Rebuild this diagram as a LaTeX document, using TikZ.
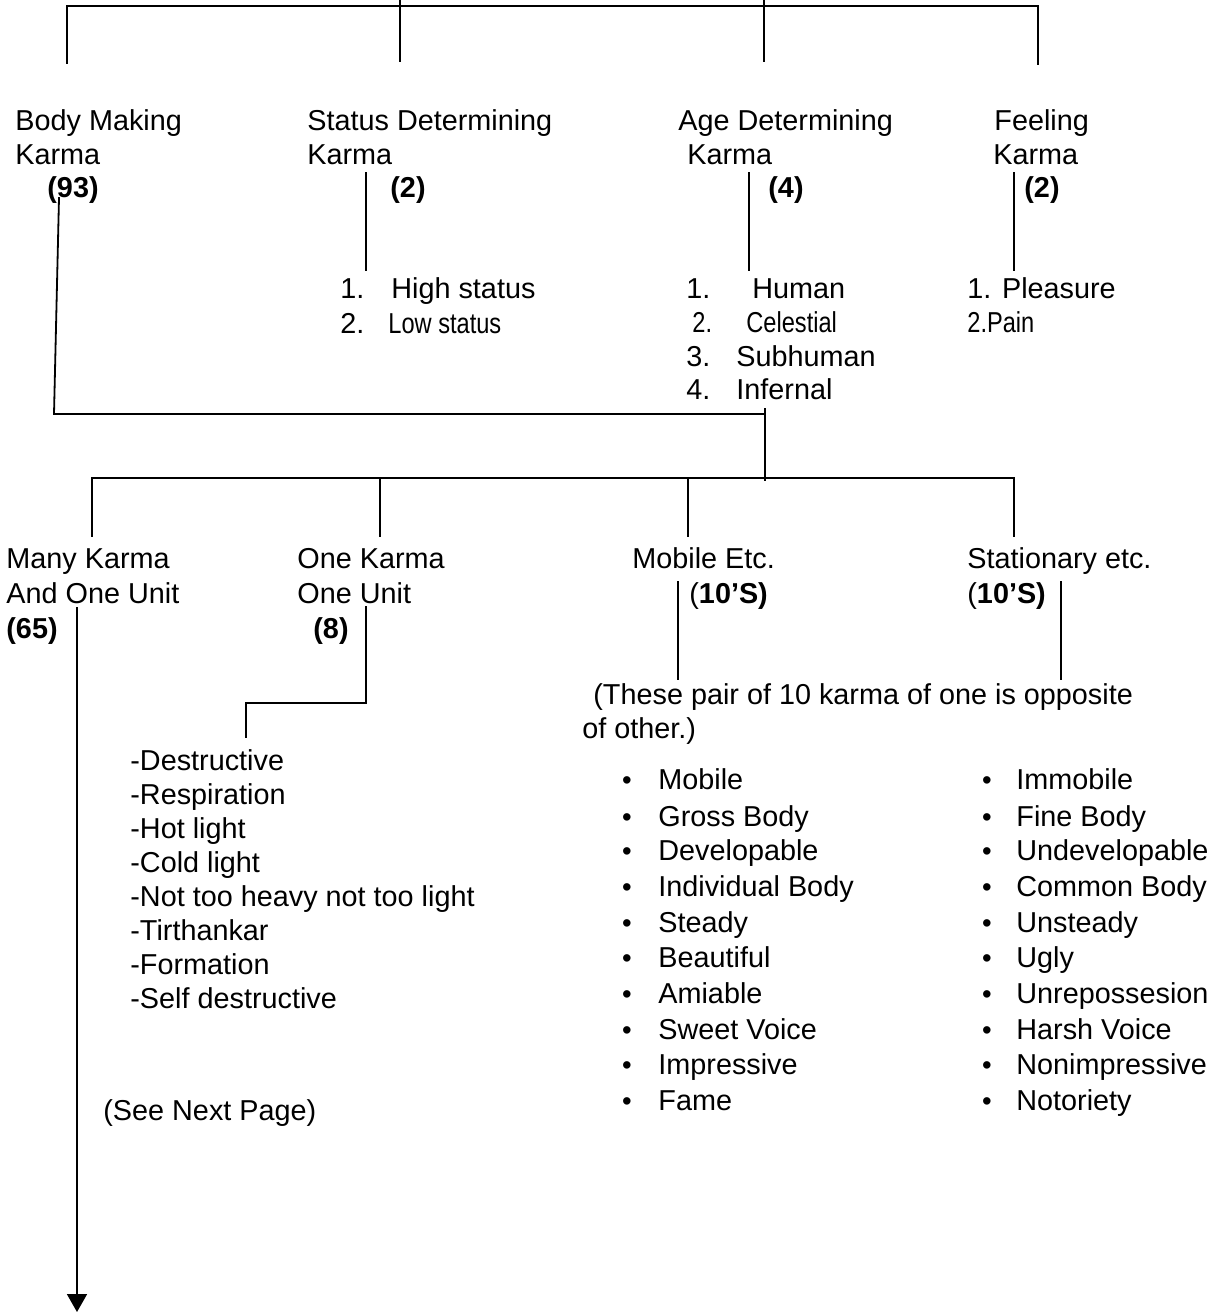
\documentclass[tikz,border=0pt]{standalone}
\usepackage{fontspec}
\usepackage{graphicx}
\setmainfont{Liberation Sans}
\usetikzlibrary{arrows.meta}
\newcommand\condensed[1]{\scalebox{0.82}[1]{#1}}
\begin{document}
\begin{tikzpicture}[x=0.5pt,y=-0.5pt,
  lbl/.style={anchor=base west,inner sep=0pt,font=\fontsize{14.4}{17}\selectfont},
  bld/.style={lbl,font=\fontsize{14.4}{17}\selectfont\bfseries},
  wire/.style={line width=0.9pt,line cap=rect},
  dot/.style={anchor=base,inner sep=0pt,font=\fontsize{13.75}{16}\selectfont}]
\fill[white] (0,0) rectangle (1224,1313);
\useasboundingbox (0,0) rectangle (1224,1313);

% ---------- first level: four kinds of karma ----------
\node[lbl] (bm1) at (15,130) {Body Making};
\node[lbl] (bm2) at (15,164) {Karma};
\node[bld] (bm3) at (47,197) {(93)};

\node[lbl] (sd1) at (307,130) {Status Determining};
\node[lbl] (sd2) at (307,164) {Karma};
\node[bld] (sd3) at (390,197) {(2)};

\node[lbl] (ad1) at (678,130) {Age Determining};
\node[lbl] (ad2) at (687,164) {Karma};
\node[bld] (ad3) at (768,197) {(4)};

\node[lbl] (fk1) at (994,130) {Feeling};
\node[lbl] (fk2) at (993,164) {Karma};
\node[bld] (fk3) at (1024,197) {(2)};

% status sub-items
\node[lbl] (sn1) at (340,298) {1.};
\node[lbl] (st1) at (391,298) {High status};
\node[lbl] (sn2) at (340,333) {2.};
\node[lbl] (st2) at (388,333) {\condensed{Low status}};

% age sub-items
\node[lbl] (an1) at (686,298) {1.};
\node[lbl] (at1) at (752,298) {Human};
\node[lbl] (an2) at (692,332) {\condensed{2.}};
\node[lbl] (at2) at (746,332) {\condensed{Celestial}};
\node[lbl] (an3) at (686,366) {3.};
\node[lbl] (at3) at (736,366) {Subhuman};
\node[lbl] (an4) at (686,399) {4.};
\node[lbl] (at4) at (736,399) {Infernal};

% feeling sub-items
\node[lbl] (ft1) at (967,298) {1. Pleasure};
\node[lbl] (ft2) at (967,332) {\condensed{2.Pain}};

% ---------- second level: body making karma ----------
\node[lbl] (mk1) at (6,568) {Many Karma};
\node[lbl] (mk2) at (6,603) {And One Unit};
\node[bld] (mk3) at (6,638) {(65)};

\node[lbl] (ok1) at (297,568) {One Karma};
\node[lbl] (ok2) at (297,603) {One Unit};
\node[bld] (ok3) at (313,638) {(8)};

\node[lbl] (me1) at (632,568) {Mobile Etc.};
\node[lbl] (me2) at (689,603) {(\textbf{10’S)}};

\node[lbl] (se1) at (967,568) {Stationary etc.};
\node[lbl] (se2) at (967,603) {(\textbf{10’S)}};

\node[lbl] (note1) at (593,704) {(These pair of 10 karma of one is opposite};
\node[lbl] (note2) at (582,738) {of other.)};

% one karma one unit items
\foreach \t [count=\i] in {Destructive,Respiration,Hot light,Cold light,
    Not too heavy not too light,Tirthankar,Formation,Self destructive}
  \node[lbl] (ok-\i) at (130,736+34*\i) {-\t};

\node[lbl] (next) at (103,1120) {(See Next Page)};

% paired lists
\foreach \a/\b/\yy [count=\i] in {Mobile/Immobile/789,Gross Body/Fine Body/826,
    Developable/Undevelopable/860,Individual Body/Common Body/896,
    Steady/Unsteady/932,Beautiful/Ugly/967,Amiable/Unrepossesion/1003,
    Sweet Voice/Harsh Voice/1039,Impressive/Nonimpressive/1074,
    Fame/Notoriety/1110}{
  \node[dot] (lb-\i) at (627,\yy) {•};
  \node[lbl] (la-\i) at (658,\yy) {\a};
  \node[dot] (rb-\i) at (987,\yy) {•};
  \node[lbl] (ra-\i) at (1016,\yy) {\b};
}

% ---------- connectors ----------
\coordinate (t1) at (67,63);   \coordinate (t1u) at (67,6);
\coordinate (t4) at (1038,64); \coordinate (t4u) at (1038,6);
\coordinate (t2) at (400,61);  \coordinate (t2u) at (400,0);
\coordinate (t3) at (764,61);  \coordinate (t3u) at (764,0);
\draw[wire] (t1) -- (t1u) -- (t4u) -- (t4);
\draw[wire] (t2u) -- (t2);
\draw[wire] (t3u) -- (t3);

\coordinate (sdA) at (366,173); \coordinate (sdB) at (366,270);
\coordinate (adA) at (749,173); \coordinate (adB) at (749,270);
\coordinate (fkA) at (1014,173); \coordinate (fkB) at (1014,270);
\draw[wire] (sdA) -- (sdB);
\draw[wire] (adA) -- (adB);
\draw[wire] (fkA) -- (fkB);

\coordinate (bmA) at (59,198); \coordinate (bmB) at (54,414);
\coordinate (bmC) at (765,414); \coordinate (bmD) at (765,409);
\coordinate (bmE) at (765,480);
\draw[wire] (bmA) -- (bmB) -- (bmC);
\draw[wire] (bmD) -- (bmE);

\coordinate (b1) at (92,536);   \coordinate (b1u) at (92,478);
\coordinate (b4) at (1014,536); \coordinate (b4u) at (1014,478);
\coordinate (b2) at (380,536);  \coordinate (b2u) at (380,478);
\coordinate (b3) at (688,536);  \coordinate (b3u) at (688,478);
\draw[wire] (b1) -- (b1u) -- (b4u) -- (b4);
\draw[wire] (b2u) -- (b2);
\draw[wire] (b3u) -- (b3);

\coordinate (mkA) at (77,607); \coordinate (mkB) at (77,1312);
\draw[wire,line cap=butt,-{Triangle[length=9pt,width=10pt]}] (mkA) -- (mkB);

\coordinate (okA) at (366,607); \coordinate (okB) at (366,703);
\coordinate (okC) at (246,703); \coordinate (okD) at (246,737);
\draw[wire] (okA) -- (okB) -- (okC) -- (okD);

\coordinate (meA) at (678,582); \coordinate (meB) at (678,679);
\coordinate (seA) at (1061,582); \coordinate (seB) at (1061,679);
\draw[wire] (meA) -- (meB);
\draw[wire] (seA) -- (seB);
\end{tikzpicture}
\end{document}
